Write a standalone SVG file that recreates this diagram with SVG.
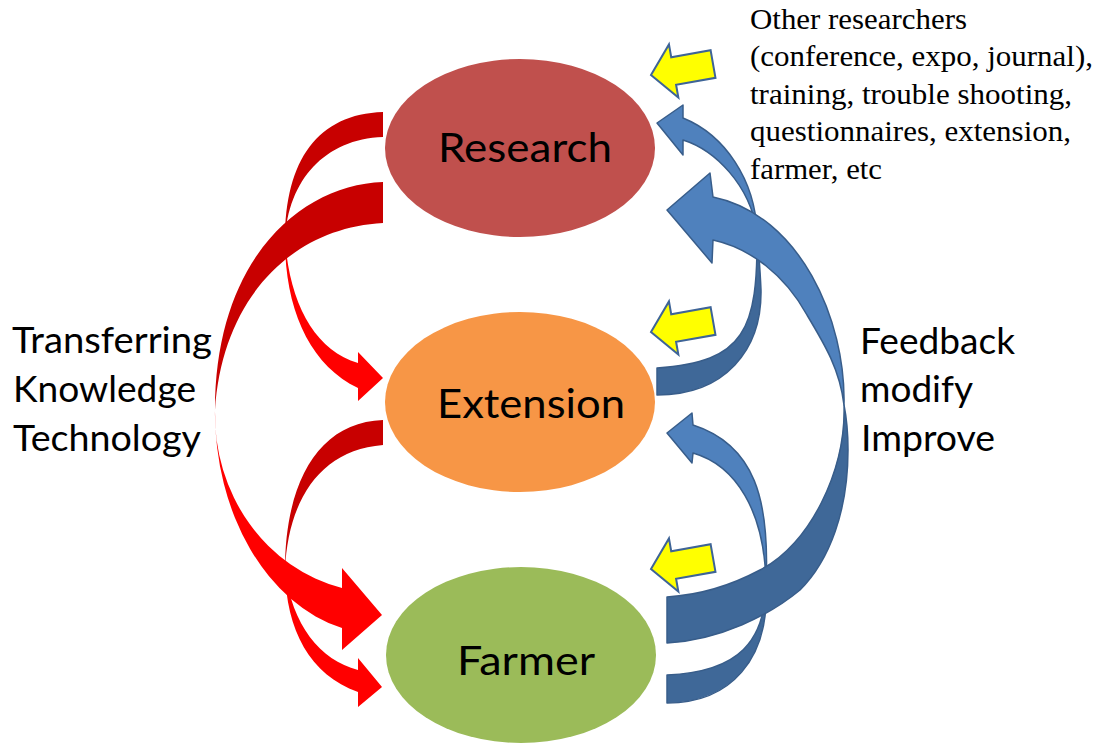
<svg xmlns="http://www.w3.org/2000/svg" width="1100" height="747" viewBox="0 0 1100 747">
<defs>
<style>
.lbl{font-family:Lato,"Open Sans","Liberation Sans",sans-serif;fill:#000}
.node-lbl{font-size:41px}
.side{font-size:37px}
.note{font-family:"Liberation Serif","Times New Roman",serif;font-size:29px;fill:#000}
.rd{fill:#C80000}
.rb{fill:#FF0000}
.bl{fill:#4F81BD;stroke:#385D8A;stroke-width:1.5;stroke-linejoin:round}
.bd{fill:#3F6898;stroke:#385D8A;stroke-width:1.5;stroke-linejoin:round}
.yl{fill:#FFFF00;stroke:#3E6497;stroke-width:2;stroke-linejoin:miter}
</style>
<polygon id="yarrow" points="0,0 23,-27 23,-14 63,-14 63,14 23,14 23,27"/>
</defs>
<rect width="1100" height="747" fill="#fff"/>

<g id="research">
<ellipse cx="520" cy="148" rx="135" ry="89" fill="#C0504D"/>
<text class="lbl node-lbl" x="438" y="162" textLength="174" lengthAdjust="spacingAndGlyphs">Research</text>
</g>
<g id="extension">
<ellipse cx="520" cy="402" rx="135" ry="90" fill="#F79646"/>
<text class="lbl node-lbl" x="437" y="418" textLength="188" lengthAdjust="spacingAndGlyphs">Extension</text>
</g>
<g id="farmer">
<ellipse cx="521" cy="655" rx="135" ry="88" fill="#9BBB59"/>
<text class="lbl node-lbl" x="457" y="675" textLength="138" lengthAdjust="spacingAndGlyphs">Farmer</text>
</g>

<g id="connectors">
<!-- red: Research -> Extension -->
<path class="rd" d="M383,112 C318,114 285,160 285,240 C288,180 325,139 383,137 Z"/>
<path class="rb" d="M285,240 C285,310 310,365 358,388 L358,401 L383,378 L358,352 L358,363 C315,350 290,305 285,240 Z"/>
<!-- red: Extension -> Farmer -->
<path class="rd" d="M383,420 C320,422 285,480 285,570 C288,500 320,450 383,445 Z"/>
<path class="rb" d="M285,570 C286,630 310,675 358,692 L358,707 L382,687 L358,658 L358,670 C320,660 292,625 285,570 Z"/>
<!-- red: Research -> Farmer (big) -->
<path class="rd" d="M383,182 C300,185 215,260 215,410 C222,300 290,228 383,223 Z"/>
<path class="rb" d="M215,410 A165,222 0 0 0 342,628 L342,650 L382,615 L342,568 L342,588 A165,178 0 0 1 215,410 Z"/>

<!-- blue: Extension -> Research -->
<path class="bd" d="M757,232 C758,330 745,362 657,368 L657,395 C725,395 762,350 761,290 C760,265 758,245 757,232 Z"/>
<path class="bl" d="M757,232 C755,180 725,135 683,118 L683,105 L657,123 L683,155 L683,140 C715,150 750,185 757,232 Z"/>
<!-- blue: Farmer -> Extension -->
<path class="bd" d="M766,585 C765,640 740,672 667,675 L667,703 C730,703 770,660 766,585 Z"/>
<path class="bl" d="M766,585 C770,500 755,445 693,425 L692,413 L667,433 L692,463 L693,453 C735,465 765,510 766,585 Z"/>
<!-- blue: Farmer -> Research (big) -->
<path class="bd" d="M844,405 C846,470 810,545 760,570 C730,586 700,595 667,597 L667,643 C720,640 770,615 800,590 C830,560 848,510 848,450 C848,430 846,415 844,405 Z"/>
<path class="bl" d="M844,405 C846,320 800,215 713,197 L710,173 L667,210 L712,263 L713,240 C750,248 785,275 807,315 C825,345 840,370 844,405 Z"/>

<!-- yellow input arrows -->
<use href="#yarrow" class="yl" transform="translate(651,75) rotate(-10)"/>
<use href="#yarrow" class="yl" transform="translate(651,332) rotate(-10)"/>
<use href="#yarrow" class="yl" transform="translate(651,569) rotate(-10)"/>
</g>

<g id="left-label">
<text class="lbl side" x="12" y="353" textLength="200" lengthAdjust="spacingAndGlyphs">Transferring</text>
<text class="lbl side" x="13" y="402" textLength="183" lengthAdjust="spacingAndGlyphs">Knowledge</text>
<text class="lbl side" x="13" y="451" textLength="188" lengthAdjust="spacingAndGlyphs">Technology</text>
</g>
<g id="right-label">
<text class="lbl side" x="860" y="354" textLength="155" lengthAdjust="spacingAndGlyphs">Feedback</text>
<text class="lbl side" x="860" y="402" textLength="113" lengthAdjust="spacingAndGlyphs">modify</text>
<text class="lbl side" x="861" y="451" textLength="134" lengthAdjust="spacingAndGlyphs">Improve</text>
</g>
<g id="inputs-note">
<text class="note" x="750" y="29" textLength="217" lengthAdjust="spacingAndGlyphs">Other researchers</text>
<text class="note" x="750" y="66" textLength="343" lengthAdjust="spacingAndGlyphs">(conference, expo, journal),</text>
<text class="note" x="750" y="104" textLength="322" lengthAdjust="spacingAndGlyphs">training, trouble shooting,</text>
<text class="note" x="750" y="141" textLength="321" lengthAdjust="spacingAndGlyphs">questionnaires, extension,</text>
<text class="note" x="750" y="179" textLength="132" lengthAdjust="spacingAndGlyphs">farmer, etc</text>
</g>
</svg>
